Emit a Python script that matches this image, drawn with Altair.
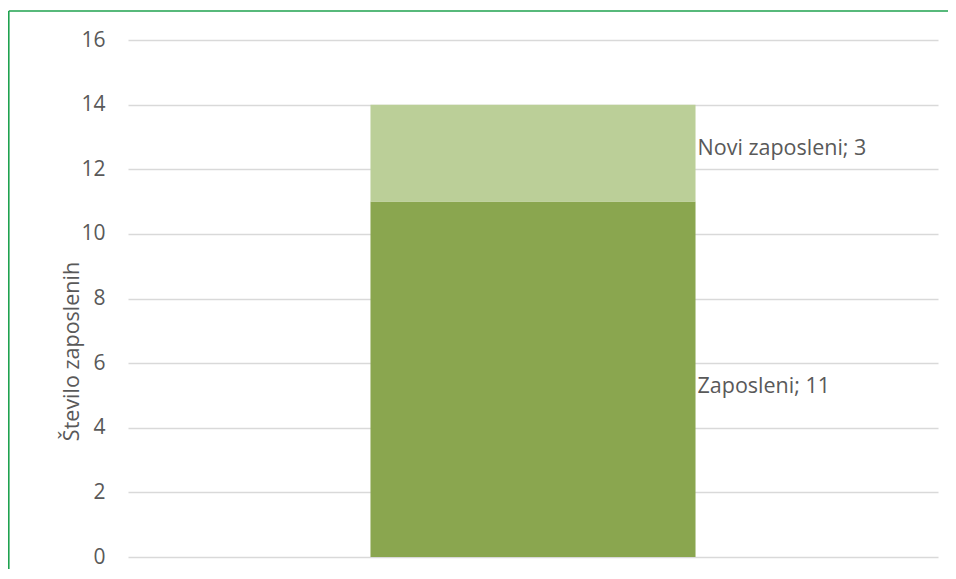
import altair as alt
import pandas as pd

# data
series = ["Zaposleni", "Novi zaposleni"]
values = [11, 3]
colors = ["#8AA64F", "#BBCF98"]
y_ticks = [0, 2, 4, 6, 8, 10, 12, 14, 16]
category = "Skupaj"

df = pd.DataFrame({
    "cat": [category] * len(series),
    "series": series,
    "value": values,
    "idx": list(range(len(series))),
})
df["top"] = df["value"].cumsum()
df["mid"] = df["top"] - df["value"] / 2
df["label"] = df["series"] + "; " + df["value"].astype(str)

W, H = 810, 517
PL, PT, PR, PB = 120, 32, 10, 12
FONT = "Open Sans"
TXT = "#595959"
GREEN = "#1FA24F"

xscale = alt.Scale(paddingInner=0, paddingOuter=0.746)

base = alt.Chart(df)

bars = base.mark_bar().encode(
    x=alt.X("cat:N", axis=None, scale=xscale),
    y=alt.Y(
        "value:Q",
        stack="zero",
        scale=alt.Scale(domain=[0, 16], nice=False),
        axis=alt.Axis(
            values=y_ticks,
            title="Število zaposlenih",
            titleFont=FONT,
            titleFontSize=21.5,
            titleFontWeight="normal",
            titleColor=TXT,
            titleAngle=-90,
            titleAlign="center",
            titleBaseline="alphabetic",
            titleX=-50,
            titleY=311,
            labelFont=FONT,
            labelFontSize=21,
            labelColor=TXT,
            labelPadding=23,
            ticks=False,
            domain=False,
            grid=True,
            gridColor="#D9D9D9",
            gridWidth=1.3,
        ),
    ),
    color=alt.Color(
        "series:N",
        scale=alt.Scale(domain=series, range=colors),
        legend=None,
    ),
    order=alt.Order("idx:Q"),
)

def label_layer(name, dy):
    return base.transform_filter(alt.datum.series == name).mark_text(
        align="left", baseline="alphabetic", dx=2, dy=dy,
        font=FONT, fontSize=21.5, color=TXT,
    ).encode(
        x=alt.X("cat:N", scale=xscale, bandPosition=1),
        y=alt.Y("mid:Q"),
        text="label:N",
    )

lab_new = label_layer("Novi zaposleni", 2)
lab_old = label_layer("Zaposleni", 14)

# outer chart frame: top and left edges only
frame_top = base.transform_filter(alt.datum.idx == 0).mark_rule(
    color=GREEN, strokeWidth=1.6
).encode(
    x=alt.value(-PL + 0.8), x2=alt.value(W + PR), y=alt.value(-29), y2=alt.value(-29)
)
frame_left = base.transform_filter(alt.datum.idx == 0).mark_rule(
    color=GREEN, strokeWidth=1.6
).encode(
    x=alt.value(-PL + 0.8), x2=alt.value(-PL + 0.8), y=alt.value(-29), y2=alt.value(H + PB)
)

chart = alt.layer(bars, lab_new, lab_old, frame_top, frame_left).properties(
    width=W,
    height=H,
    autosize=alt.AutoSizeParams(type="none"),
    padding={"left": PL, "top": PT, "right": PR, "bottom": PB},
    background="white",
).configure_view(strokeWidth=0)

chart.save("out.html", embed_options={"renderer": "svg", "actions": False})
